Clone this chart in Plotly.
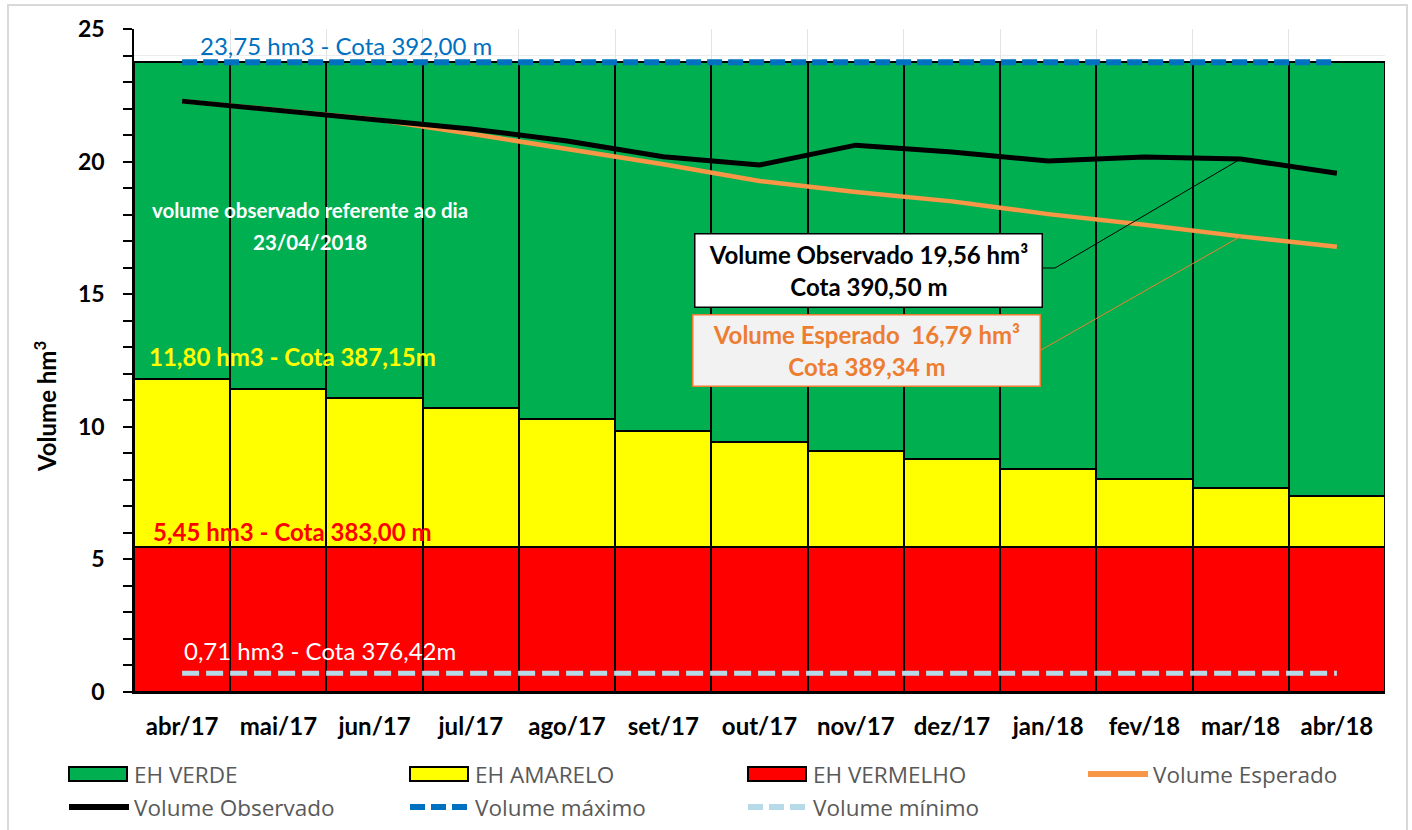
import plotly.graph_objects as go

categories = ["abr/17", "mai/17", "jun/17", "jul/17", "ago/17", "set/17", "out/17",
              "nov/17", "dez/17", "jan/18", "fev/18", "mar/18", "abr/18"]
vol_max = 23.75
vol_min = 0.71
red_level = 5.45
yellow_top = [11.80, 11.42, 11.07, 10.70, 10.28, 9.86, 9.43, 9.10, 8.77, 8.42, 8.05, 7.70, 7.40]
observado = [22.28, 21.92, 21.60, 21.23, 20.78, 20.18, 19.87, 20.62, 20.36, 20.02, 20.17, 20.10, 19.56]
esperado = [22.28, 21.92, 21.60, 21.05, 20.48, 19.90, 19.27, 18.85, 18.50, 18.02, 17.62, 17.18, 16.79]

red_vals = [red_level] * len(categories)
yellow_vals = [t - red_level for t in yellow_top]
green_vals = [vol_max - t for t in yellow_top]

FONT = "Lato, 'Open Sans', sans-serif"
LEG_FONT = dict(family="'Open Sans', sans-serif", size=22.5, color="#595959")

C_GREEN, C_YELLOW, C_RED = "#00B050", "#FFFF00", "#FF0000"
C_ORANGE, C_BLUE, C_LBLUE = "#F79646", "#0070C0", "#B7DAE8"

fig = go.Figure()
bar_line = dict(color="black", width=2)
fig.add_trace(go.Bar(x=categories, y=red_vals, name="EH VERMELHO", marker=dict(color=C_RED, line=bar_line)))
fig.add_trace(go.Bar(x=categories, y=yellow_vals, name="EH AMARELO", marker=dict(color=C_YELLOW, line=bar_line)))
fig.add_trace(go.Bar(x=categories, y=green_vals, name="EH VERDE", marker=dict(color=C_GREEN, line=bar_line)))
fig.add_trace(go.Scatter(x=categories, y=esperado, name="Volume Esperado", mode="lines",
                         line=dict(color=C_ORANGE, width=4.5)))
fig.add_trace(go.Scatter(x=categories, y=observado, name="Volume Observado", mode="lines",
                         line=dict(color="black", width=5)))
fig.add_trace(go.Scatter(x=categories, y=[vol_max] * len(categories), name="Volume máximo", mode="lines",
                         line=dict(color=C_BLUE, width=6, dash="15px,6px")))
fig.add_trace(go.Scatter(x=categories, y=[vol_min] * len(categories), name="Volume mínimo", mode="lines",
                         line=dict(color=C_LBLUE, width=5, dash="17px,7px")))

L, R, T, B = 134, 27, 29, 138
W, H = 1412, 830
pw, ph = W - L - R, H - T - B


def px_x(px):
    return (px - L) / pw


def px_y(py):
    return (H - B - py) / ph


def data_y(py):
    return (H - B - py) / ph * 25


def cat_x(px):
    return (px - L) / (pw / len(categories)) - 0.5


annots = [
    dict(text="23,75 hm3 - Cota 392,00 m", x=346, y=45, color=C_BLUE, bold=False, size=24),
    dict(text="volume observado referente ao dia", x=310, y=210, color="white", bold=True, size=20.5),
    dict(text="23/04/2018", x=310, y=242, color="white", bold=True, size=20.5),
    dict(text="11,80 hm3 - Cota 387,15m", x=292, y=356, color="#FFFF00", bold=True, size=24),
    dict(text="5,45 hm3 - Cota 383,00 m", x=292, y=531, color="#FF0000", bold=True, size=24),
    dict(text="0,71 hm3 - Cota 376,42m", x=320, y=650, color="white", bold=False, size=24),
]
for a in annots:
    txt = f"<b>{a['text']}</b>" if a["bold"] else a["text"]
    fig.add_annotation(text=txt, x=px_x(a["x"]), y=data_y(a["y"]), xref="paper", yref="y",
                       xanchor="center", yanchor="middle", showarrow=False,
                       font=dict(family=FONT, size=a["size"], color=a["color"]), align="center")

# y-axis title
fig.add_annotation(text="<b>Volume hm<sup>3</sup></b>", x=px_x(45), y=data_y(407), xref="paper", yref="y",
                   xanchor="center", yanchor="middle", textangle=-90, showarrow=False,
                   font=dict(family=FONT, size=24, color="black"))

# Callout boxes
fig.add_annotation(text="<b>Volume Observado 19,56 hm³<br>Cota 390,50 m</b>", x=px_x(868), y=data_y(270),
                   xref="paper", yref="y", xanchor="center", yanchor="middle", showarrow=False,
                   bgcolor="white", bordercolor="black", borderwidth=1.5, width=344, height=70,
                   font=dict(family=FONT, size=24, color="black"))
fig.add_annotation(text="<b>Volume Esperado  16,79 hm³<br>Cota 389,34 m</b>", x=px_x(866), y=data_y(350),
                   xref="paper", yref="y", xanchor="center", yanchor="middle", showarrow=False,
                   bgcolor="#F2F2F2", bordercolor="#ED7D31", borderwidth=1.5, width=344, height=68,
                   font=dict(family=FONT, size=24, color="#ED7D31"))

# leader lines (from box edges to the mar/18 point)
i_mar = categories.index("mar/18")
fig.add_shape(type="line", xref="x", yref="y", x0=cat_x(1043), x1=cat_x(1055),
              y0=data_y(268), y1=data_y(268), line=dict(color="black", width=1))
fig.add_shape(type="line", xref="x", yref="y", x0=cat_x(1055), x1=i_mar,
              y0=data_y(268), y1=observado[i_mar], line=dict(color="black", width=1))
fig.add_shape(type="line", xref="x", yref="y", x0=cat_x(1041), x1=i_mar,
              y0=data_y(350), y1=esperado[i_mar], line=dict(color="#ED7D31", width=1))

# outer chart border
fig.add_shape(type="rect", xref="paper", yref="paper", x0=px_x(8), x1=px_x(1407),
              y0=px_y(845), y1=px_y(5), line=dict(color="#D9D9D9", width=2), fillcolor="rgba(0,0,0,0)",
              layer="below")

# manual legend (two rows)
legend_items = [
    ("EH VERDE", "rect", C_GREEN, 69, 774),
    ("EH AMARELO", "rect", C_YELLOW, 410, 774),
    ("EH VERMELHO", "rect", C_RED, 748, 774),
    ("Volume Esperado", "line", C_ORANGE, 1088, 774),
    ("Volume Observado", "line", "black", 69, 807),
    ("Volume máximo", "dash", C_BLUE, 410, 807),
    ("Volume mínimo", "dash", C_LBLUE, 748, 807),
]
for name, kind, color, x0, cy in legend_items:
    if kind == "rect":
        fig.add_shape(type="rect", xref="paper", yref="paper", x0=px_x(x0), x1=px_x(x0 + 58),
                      y0=px_y(cy + 7), y1=px_y(cy - 7), fillcolor=color, line=dict(color="black", width=2))
    elif kind == "line":
        fig.add_shape(type="line", xref="paper", yref="paper", x0=px_x(x0), x1=px_x(x0 + 60),
                      y0=px_y(cy), y1=px_y(cy), line=dict(color=color, width=6))
    else:
        fig.add_shape(type="line", xref="paper", yref="paper", x0=px_x(x0), x1=px_x(x0 + 60),
                      y0=px_y(cy), y1=px_y(cy), line=dict(color=color, width=6, dash="15px,6px"))
    fig.add_annotation(text=name, x=px_x(x0 + 63), y=px_y(cy), xref="paper", yref="paper",
                       xanchor="left", yanchor="middle", showarrow=False, font=LEG_FONT)

fig.update_layout(
    width=W, height=H,
    margin=dict(l=L, r=R, t=T, b=B, autoexpand=False),
    paper_bgcolor="white", plot_bgcolor="white",
    barmode="stack", bargap=0,
    showlegend=False,
    xaxis=dict(type="category", tickson="boundaries", showgrid=True, gridcolor="#E3E3E3",
               showline=True, linecolor="black", linewidth=1.5, ticks="", automargin=False,
               ticklabelstandoff=12,
               tickfont=dict(family=FONT, size=24, color="black", weight="bold"), range=[-0.5, 12.5]),
    yaxis=dict(range=[0, 25], dtick=5, showgrid=True, gridcolor="#E3E3E3", showline=True,
               linecolor="black", linewidth=1.5, ticks="outside", ticklen=9, tickcolor="black", tickwidth=1.5,
               minor=dict(dtick=1, ticks="outside", ticklen=9, tickcolor="black", tickwidth=1.5,
                          showgrid=True, gridcolor="#ECECEC"),
               automargin=False, ticklabelstandoff=14,
               tickfont=dict(family=FONT, size=23, color="black", weight="bold"), zeroline=False),
)

fig.write_html("out.html", config={"displayModeBar": False},
               post_script="document.body.style.margin='0px';")
